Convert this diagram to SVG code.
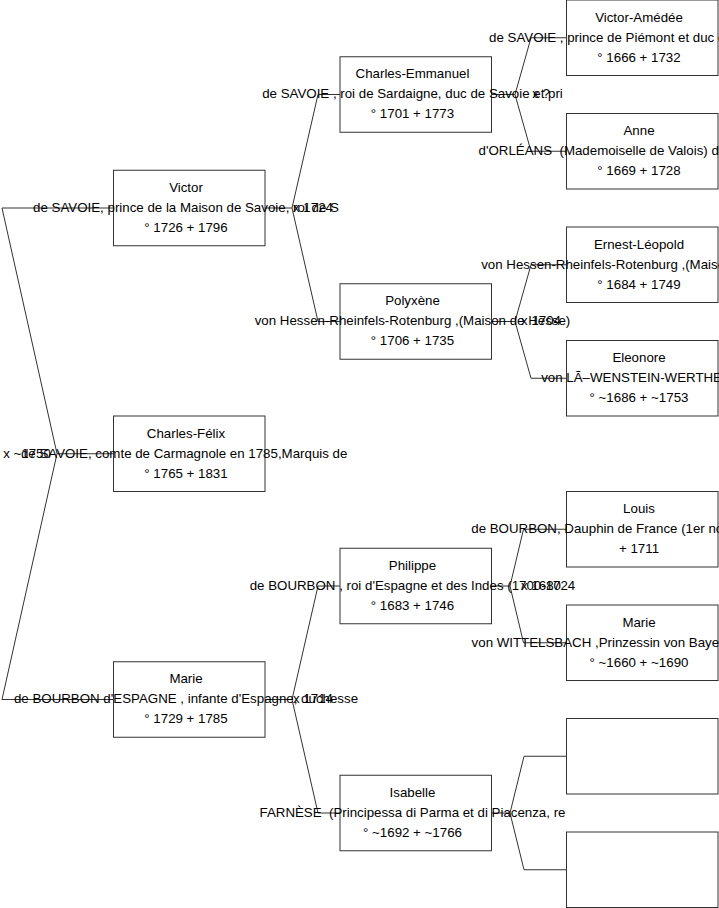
<svg xmlns="http://www.w3.org/2000/svg" width="719" height="908" viewBox="0 0 719 908">
<style>
.box { fill: #fff; stroke: #333; stroke-width: 1; }
.t { font-family: "Liberation Sans", Arial, sans-serif; font-size: 13.3px; fill: #000; text-anchor: middle; white-space: pre; }
.lbl { font-family: "Liberation Sans", Arial, sans-serif; font-size: 13.3px; fill: #000; text-anchor: middle; white-space: pre; }
.c { fill: none; stroke: #333; stroke-width: 1; }
</style>
<rect width="719" height="908" fill="#fff"/>
<g id="connectors">
<polyline class="c" points="113.5,208 2,208 57,453.75 2,699.5 113.5,699.5"/>
<line class="c" x1="57" y1="453.75" x2="113.5" y2="453.75"/>
<polyline class="c" points="340,94.5 318,94.5 292,208 318,321.5 340,321.5"/>
<line class="c" x1="265" y1="208" x2="292" y2="208"/>
<polyline class="c" points="340,586 318,586 292,699.5 318,813 340,813"/>
<line class="c" x1="265" y1="699.5" x2="292" y2="699.5"/>
<polyline class="c" points="566.5,37.75 531,37.75 515,94.5 531,151.25 566.5,151.25"/>
<line class="c" x1="491.5" y1="94.5" x2="515" y2="94.5"/>
<polyline class="c" points="566.5,264.75 531,264.75 515,321.5 531,378.25 566.5,378.25"/>
<line class="c" x1="491.5" y1="321.5" x2="515" y2="321.5"/>
<polyline class="c" points="566.5,529.25 523.5,529.25 510,586 523.5,642.75 566.5,642.75"/>
<line class="c" x1="491.5" y1="586" x2="510" y2="586"/>
<polyline class="c" points="566.5,756.25 524,756.25 510,813 524,869.75 566.5,869.75"/>
<line class="c" x1="491.5" y1="813" x2="510" y2="813"/>
</g>
<g id="node-victor">
<rect class="box" x="113.5" y="170.25" width="151.5" height="75.5"/>
<text class="t" x="186" y="191.75">Victor</text>
<text class="t" x="186" y="211.75">de SAVOIE, prince de la Maison de Savoie, roi de S</text>
<text class="t" x="186" y="231.75">° 1726 + 1796</text>
</g>
<g id="node-charles-felix">
<rect class="box" x="113.5" y="416" width="151.5" height="75.5"/>
<text class="t" x="186" y="437.5">Charles-Félix</text>
<text class="t" x="186" y="457.5">de SAVOIE, comte de Carmagnole en 1785,Marquis de </text>
<text class="t" x="186" y="477.5">° 1765 + 1831</text>
</g>
<g id="node-marie-bourbon">
<rect class="box" x="113.5" y="661.75" width="151.5" height="75.5"/>
<text class="t" x="186" y="683.25">Marie</text>
<text class="t" x="186" y="703.25">de BOURBON d'ESPAGNE , infante d'Espagne, duchesse</text>
<text class="t" x="186" y="723.25">° 1729 + 1785</text>
</g>
<g id="node-charles-emmanuel">
<rect class="box" x="340" y="56.75" width="151.5" height="75.5"/>
<text class="t" x="412.5" y="78.25">Charles-Emmanuel</text>
<text class="t" x="412.5" y="98.25">de SAVOIE , roi de Sardaigne, duc de Savoie et pri</text>
<text class="t" x="412.5" y="118.25">° 1701 + 1773</text>
</g>
<g id="node-polyxene">
<rect class="box" x="340" y="283.75" width="151.5" height="75.5"/>
<text class="t" x="412.5" y="305.25">Polyxène</text>
<text class="t" x="412.5" y="325.25">von Hessen-Rheinfels-Rotenburg ,(Maison de Hesse)</text>
<text class="t" x="412.5" y="345.25">° 1706 + 1735</text>
</g>
<g id="node-philippe">
<rect class="box" x="340" y="548.25" width="151.5" height="75.5"/>
<text class="t" x="412.5" y="569.75">Philippe</text>
<text class="t" x="412.5" y="589.75">de BOURBON , roi d'Espagne et des Indes (1700-1724</text>
<text class="t" x="412.5" y="609.75">° 1683 + 1746</text>
</g>
<g id="node-isabelle">
<rect class="box" x="340" y="775.25" width="151.5" height="75.5"/>
<text class="t" x="412.5" y="796.75">Isabelle</text>
<text class="t" x="412.5" y="816.75">FARNÈSE  (Principessa di Parma et di Piacenza, re</text>
<text class="t" x="412.5" y="836.75">° ~1692 + ~1766</text>
</g>
<g id="node-victor-amedee">
<rect class="box" x="566.5" y="0" width="151.5" height="75.5"/>
<text class="t" x="639" y="21.5">Victor-Amédée</text>
<text class="t" x="639" y="41.5">de SAVOIE , prince de Piémont et duc de Savoie, r</text>
<text class="t" x="639" y="61.5">° 1666 + 1732</text>
</g>
<g id="node-anne">
<rect class="box" x="566.5" y="113.5" width="151.5" height="75.5"/>
<text class="t" x="639" y="135">Anne</text>
<text class="t" x="639" y="155">d'ORLÉANS  (Mademoiselle de Valois) duchesse de S</text>
<text class="t" x="639" y="175">° 1669 + 1728</text>
</g>
<g id="node-ernest-leopold">
<rect class="box" x="566.5" y="227" width="151.5" height="75.5"/>
<text class="t" x="639" y="248.5">Ernest-Léopold</text>
<text class="t" x="639" y="268.5">von Hessen-Rheinfels-Rotenburg ,(Maison de Hesse)</text>
<text class="t" x="639" y="288.5">° 1684 + 1749</text>
</g>
<g id="node-eleonore">
<rect class="box" x="566.5" y="340.5" width="151.5" height="75.5"/>
<text class="t" x="639" y="362">Eleonore</text>
<text class="t" x="639" y="382">von LÃ–WENSTEIN-WERTHEIM</text>
<text class="t" x="639" y="402">° ~1686 + ~1753</text>
</g>
<g id="node-louis">
<rect class="box" x="566.5" y="491.5" width="151.5" height="75.5"/>
<text class="t" x="639" y="513">Louis</text>
<text class="t" x="639" y="533">de BOURBON, Dauphin de France (1er nommé Monseig</text>
<text class="t" x="639" y="553">+ 1711</text>
</g>
<g id="node-marie-wittelsbach">
<rect class="box" x="566.5" y="605" width="151.5" height="75.5"/>
<text class="t" x="639" y="626.5">Marie</text>
<text class="t" x="639" y="646.5">von WITTELSBACH ,Prinzessin von Bayern, Dauphine d</text>
<text class="t" x="639" y="666.5">° ~1660 + ~1690</text>
</g>
<g id="node-empty-1">
<rect class="box" x="566.5" y="718.5" width="151.5" height="75.5"/>
</g>
<g id="node-empty-2">
<rect class="box" x="566.5" y="832" width="151.5" height="75.5"/>
</g>
<g id="labels">
<text class="lbl" x="27" y="457.5">x ~1750</text>
<text class="lbl" x="313" y="211.75">x 1724</text>
<text class="lbl" x="313" y="703.25">x 1714</text>
<text class="lbl" x="541" y="98.25">x ?</text>
<text class="lbl" x="541" y="325.25">x 1704</text>
<text class="lbl" x="541" y="589.75">x 1680</text>
</g>
</svg>
